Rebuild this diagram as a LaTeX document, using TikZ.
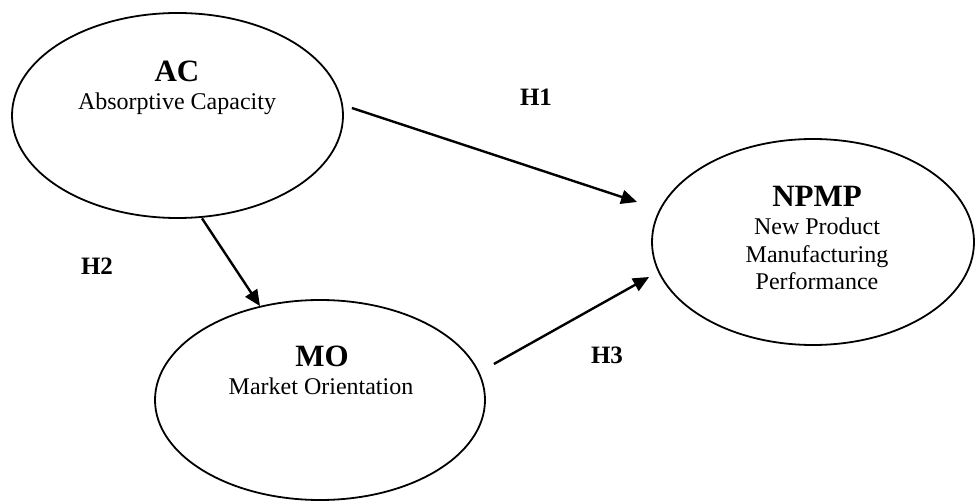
\documentclass[tikz,border=0pt]{standalone}
\usepackage{fontspec}
\setmainfont{Liberation Serif}
\usetikzlibrary{shapes.geometric,arrows.meta,calc}
\begin{document}
\begin{tikzpicture}[x=1pt,y=-1pt,
  ell/.style={draw, line width=1.8pt, ellipse, inner sep=0pt},
  arr/.style={line width=2.4pt, -{Triangle[length=16pt,width=14pt]}},
  ttl/.style={anchor=base, inner sep=0pt, font=\fontsize{31}{34}\selectfont\bfseries},
  sub/.style={anchor=base, inner sep=0pt, font=\fontsize{24}{27}\selectfont},
  hl/.style={anchor=base, inner sep=0pt, font=\fontsize{25}{28}\selectfont\bfseries}]
\useasboundingbox (0,0) rectangle (976,502);
% ellipses
\node[ell, minimum width=331pt, minimum height=205pt] (ac) at (177.5,115.5) {};
\node[ell, minimum width=322pt, minimum height=206pt] (npmp) at (813,242) {};
\node[ell, minimum width=330pt, minimum height=200pt] (mo) at (320,400) {};
% texts
\node[ttl] (actitle) at (177,82) {AC};
\node[sub] (acsub) at (177,110) {Absorptive Capacity};
\node[ttl] (nptitle) at (817,207) {NPMP};
\node[sub] (np1) at (817,235) {New Product};
\node[sub] (np2) at (817,263) {Manufacturing};
\node[sub] (np3) at (817,290) {Performance};
\node[ttl] (motitle) at (322,366) {MO};
\node[sub] (mosub) at (321,394) {Market Orientation};
% hypothesis labels
\node[hl] (h1) at (536,106) {H1};
\node[hl] (h2) at (97,275) {H2};
\node[hl] (h3) at (607,363) {H3};
% connectors
\coordinate (h1s) at ($(ac.east)+(8,-7.5)$);
\coordinate (h1e) at ($(npmp.west)+(-14,-40)$);
\coordinate (h2s) at ($(ac.south)+(24.5,-0.5)$);
\coordinate (h2e) at ($(mo.north)+(-60,7)$);
\coordinate (h3s) at ($(mo.east)+(8,-36)$);
\coordinate (h3e) at ($(npmp.west)+(-2,35)$);
\draw[arr] (h1s) -- (h1e);
\draw[arr] (h2s) -- (h2e);
\draw[arr] (h3s) -- (h3e);
\end{tikzpicture}
\end{document}
